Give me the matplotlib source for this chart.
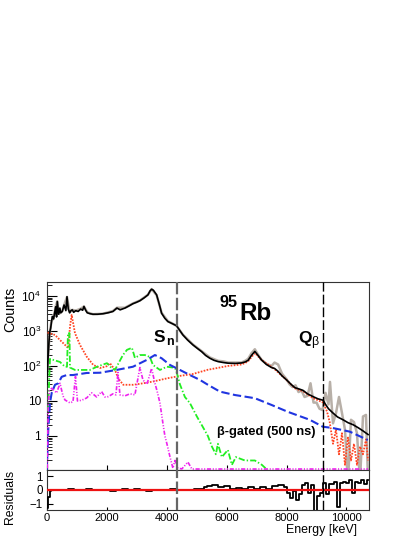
import numpy as np
import matplotlib
matplotlib.use("Agg")
import matplotlib.pyplot as plt
from matplotlib.ticker import FixedLocator, LogLocator, NullFormatter

plt.rcParams["font.family"] = ["Liberation Sans", "DejaVu Sans"]
plt.rcParams["mathtext.fontset"] = "custom"
plt.rcParams["mathtext.rm"] = "Liberation Sans"
plt.rcParams["mathtext.it"] = "Liberation Sans:italic"
plt.rcParams["mathtext.bf"] = "Liberation Sans:bold"
plt.rcParams["lines.scale_dashes"] = False

SN = 4340
QB = 9220
XMAX = 10750

# total fit (black)
fit_e = [0, 50, 77, 100, 133, 160, 187, 230, 300, 330, 353, 400, 440, 467, 520, 580, 640,
         677, 720, 767, 810, 853, 900, 967, 1050, 1133, 1200, 1243, 1300, 1353, 1450, 1543,
         1700, 1877, 2050, 2210, 2343, 2450, 2610, 2750, 2877, 3000, 3110, 3250, 3377, 3450,
         3500, 3560, 3667, 3750, 3833, 3940, 4043, 4200, 4333, 4450, 4543, 4700, 4877, 5020,
         5167, 5300, 5443, 5580, 5720, 5900, 6053, 6300, 6500, 6620, 6720, 6830, 6943, 7050,
         7167, 7330, 7500, 7600, 7720, 7850, 8000, 8150, 8277, 8420, 8553, 8700, 8887, 9050,
         9220, 9300, 9400, 9553, 9700, 9887, 10050, 10220, 10400, 10550, 10720]
fit_y = [30, 200, 500, 900, 1200, 1800, 2600, 2200, 4900, 2500, 6900, 3000, 4500, 3300, 3600,
         5500, 3800, 9500, 4200, 3300, 3800, 4000, 3400, 3800, 3600, 4200, 3900, 5000, 3900,
         3300, 3100, 3000, 3000, 3100, 3300, 3600, 4500, 4000, 4500, 5200, 6000, 6600, 7300,
         8800, 10700, 14000, 15500, 14500, 10700, 6000, 3200, 2300, 1850, 1600, 1400, 1000,
         770, 550, 400, 320, 257, 200, 166, 145, 133, 125, 120, 118, 122, 130, 145, 200, 260,
         200, 148, 110, 90, 85, 70, 52, 40, 30, 24, 22, 20, 16, 13.3, 11.5, 10.5, 8, 6, 4.5,
         3.5, 2.9, 2.4, 2.1, 1.7, 1.4, 1.1]

# measured spectrum (grey)
data_e = [0, 50, 100, 160, 230, 300, 353, 400, 467, 520, 580, 677, 767, 853, 967, 1133, 1243,
          1353, 1543, 1877, 2210, 2343, 2610, 2877, 3110, 3377, 3500, 3667, 3833, 4043, 4333,
          4543, 4877, 5167, 5443, 5720, 5900, 6053, 6300, 6500, 6620, 6720, 6830, 6943, 7050,
          7167, 7330, 7500, 7600, 7720, 7850, 8000, 8100, 8200, 8300, 8400, 8500, 8600, 8700,
          8800, 8900, 9000, 9100, 9200, 9300, 9400, 9450, 9550, 9650, 9750, 9850, 9950, 10050,
          10150, 10250, 10350, 10450, 10550, 10650, 10720]
data_y = [30, 220, 850, 1900, 2300, 5000, 7000, 3100, 3300, 3700, 5400, 9300, 3400, 4000, 3800,
          4300, 5000, 3400, 3000, 3100, 3700, 4600, 4600, 6100, 7400, 10800, 15700, 10500, 3300,
          1900, 1400, 780, 410, 265, 175, 140, 135, 125, 125, 125, 140, 160, 230, 300, 210, 150,
          115, 100, 125, 110, 60, 42, 30, 25, 28, 18, 20, 13, 14, 32, 9, 9, 6, 5.5, 17, 8, 35,
          2.3, 4.5, 13, 4.5, 1.5, 0.05, 2.9, 2.5, 1.2, 0.05, 3.6, 4, 0.05]

# component (red dotted)
red_e = [30, 110, 200, 277, 443, 610, 720, 777, 833, 943, 1110, 1333, 1553, 1777, 2000, 2110,
         2277, 2387, 2553, 2887, 3220, 3553, 4000, 4443, 4877, 5377, 5710, 6043, 6500, 6710,
         6943, 7167, 7610, 8000, 8277, 8550, 8890, 9220, 9350, 9440, 9550, 9650, 9750, 9850,
         9950, 10050, 10150, 10250, 10350, 10450, 10550, 10650, 10720]
red_y = [900, 850, 800, 770, 550, 400, 325, 1330, 2860, 870, 400, 185, 107, 87, 98, 120, 77, 44,
         29, 29, 32, 36, 44, 52, 59, 78, 88, 100, 110, 133, 235, 148, 80, 40, 23, 19, 12, 9, 5,
         2.5, 0.6, 1.5, 0.3, 1.2, 0.15, 0.9, 0.2, 0.6, 0.15, 0.5, 0.3, 0.8, 0.2]

# component (green dash-dot)
green_e = [43, 110, 210, 443, 610, 677, 710, 760, 777, 943, 1443, 1677, 2010, 2177, 2277, 2543,
           2677, 2843, 2943, 3110, 3277, 3443, 3543, 3777, 4010, 4210, 4310, 4443, 4610, 4777,
           5010, 5210, 5377, 5510, 5643, 5710, 5843, 6043, 6177, 6310, 6610, 6943, 7177, 7300]
green_y = [5, 160, 150, 130, 95, 95, 870, 870, 90, 77, 77, 95, 120, 85, 77, 205, 288, 330, 170,
           205, 205, 180, 107, 77, 95, 90, 80, 30, 13, 8.7, 3.6, 1.8, 1.0, 0.5, 0.3, 0.6, 0.25,
           0.4, 0.15, 0.25, 0.2, 0.2, 0.15, 0.12]

# component (blue dashed)
blue_e = [0, 53, 110, 167, 277, 387, 500, 667, 877, 1333, 1777, 2333, 2877, 3333, 3610, 3833,
          4110, 4443, 4777, 5110, 5377, 5777, 6277, 6943, 7500, 8043, 8777, 9210, 9543, 10110,
          10710]
blue_y = [0.1, 1.5, 8.8, 17, 29, 32, 49, 55, 55, 63, 64, 77, 95, 148, 205, 166, 107, 77, 55, 40,
          29, 18.5, 14.8, 12, 7.7, 4.9, 2.9, 1.84, 1.69, 1.33, 0.77]

# component (magenta dash-dot-dot)
mag_e = [20, 53, 93, 167, 333, 443, 543, 610, 777, 877, 960, 1027, 1167, 1333, 1500, 1667, 1833,
         1943, 2053, 2210, 2310, 2377, 2443, 2610, 2777, 2943, 3110, 3210, 3343, 3500, 3610,
         3677, 3777, 3877, 3943, 4010, 4110, 4210, 4277, 4377, 4510, 4710, 4843, 10720]
mag_y = [0.12, 9, 20, 23, 17, 32, 14, 10.7, 8.8, 9.5, 50, 10, 10.5, 12.2, 17, 13, 18.5, 13, 13.3,
         16, 15, 65, 15, 14, 16, 15, 90, 40, 30, 85, 32, 20, 8.8, 2.3, 1, 0.6, 0.26, 0.12, 0.2,
         0.12, 0.115, 0.18, 0.114, 0.114]

# residuals
res_e = [0, 40, 80, 120, 200, 400, 600, 800, 1000, 1200, 1400, 1600, 1800, 2000, 2200, 2400,
         2600, 2800, 3000, 3200, 3400, 3600, 3800, 4000, 4200, 4400, 4600, 4800, 5000, 5200,
         5300, 5400, 5600, 5800, 6000, 6200, 6400, 6600, 6800, 7000, 7200, 7400, 7600, 7800,
         8000, 8050, 8150, 8250, 8350, 8450, 8550, 8650, 8750, 8850, 8950, 9050, 9150, 9250,
         9350, 9450, 9550, 9650, 9750, 9850, 9950, 10050, 10150, 10250, 10350, 10450, 10550,
         10650, 10720]
res_y = [-1.1, -1.3, -0.5, -0.1, 0.0, 0.03, -0.02, 0.04, -0.03, 0.02, 0.05, -0.02, 0.03, 0.0,
         -0.04, 0.02, 0.05, -0.03, 0.04, 0.02, -0.05, 0.03, 0.0, -0.02, 0.04, 0.0, 0.03, -0.03,
         0.05, 0.1, 0.2, 0.3, 0.35, 0.25, 0.3, 0.1, 0.15, 0.1, 0.2, 0.1, 0.25, 0.1, 0.3, 0.35,
         0.2, -0.25, -0.6, -0.1, -0.7, -0.3, 0.35, 0.5, -0.2, 0.35, -1.6, -0.4, -0.2, 0.5, -0.3,
         0.4, 0.45, 0.6, -1.2, 0.5, 0.6, 0.5, 0.7, -0.2, 0.6, 0.5, 0.7, 0.4, 0.7]

fig = plt.figure(figsize=(4.15, 5.37), dpi=100)
ax = fig.add_axes([0.1125, 0.1248, 0.7766, 0.3501])
rax = fig.add_axes([0.1125, 0.0503, 0.7766, 0.0745])

ax.plot(data_e, data_y, color="#b8b0a8", lw=1.8, zorder=2)
ax.plot(red_e, red_y, color="#ff4422", lw=1.3, dashes=(1.2, 1.0), zorder=3)
ax.plot(green_e, green_y, color="#22ee22", lw=1.3, dashes=(4.5, 1.5, 1.0, 1.5), zorder=3)
ax.plot(blue_e, blue_y, color="#2035e0", lw=1.5, dashes=(6, 2.5), zorder=3)
ax.plot(mag_e, mag_y, color="#ee22ee", lw=1.2, dashes=(3, 1.2, 0.8, 1.2, 0.8, 1.2), zorder=3)
ax.plot(fit_e, fit_y, color="black", lw=1.2, zorder=4)

for a in (ax, rax):
    a.axvline(SN, color="#666666", lw=1.6, dashes=(9, 2.5), zorder=5)
    a.axvline(QB, color="black", lw=1.0, dashes=(7, 2.2), zorder=5)
    a.set_xlim(0, XMAX)
    for s in a.spines.values():
        s.set_color("#333333")
        s.set_linewidth(0.8)

ax.set_yscale("log")
ax.set_ylim(0.107, 25000)
ax.yaxis.set_major_locator(FixedLocator([1, 10, 100, 1000, 10000]))
ax.set_yticklabels(["1", "10", "$10^{2}$", "$10^{3}$", "$10^{4}$"])
ax.yaxis.set_minor_locator(LogLocator(base=10, subs=np.arange(2, 10)))
ax.yaxis.set_minor_formatter(NullFormatter())
ax.tick_params(axis="y", which="major", direction="in", length=7, width=0.8, labelsize=8.6, pad=4)
ax.tick_params(axis="y", which="minor", direction="in", length=3.5, width=0.6)
ax.xaxis.set_major_locator(FixedLocator([0, 2000, 4000, 6000, 8000, 10000]))
ax.tick_params(axis="x", direction="in", length=3.5, width=0.8, labelbottom=False)

rax.plot(res_e, res_y, color="black", lw=1.3, drawstyle="steps-mid", zorder=3)
rax.axhline(0, color="#ee1111", lw=1.6, zorder=4)
rax.set_ylim(-1.45, 1.45)
rax.yaxis.set_major_locator(FixedLocator([-1, 0, 1]))
rax.set_yticklabels(["\u22121", "0", "1"])
rax.xaxis.set_major_locator(FixedLocator([0, 2000, 4000, 6000, 8000, 10000]))
rax.tick_params(axis="y", direction="in", length=4, width=0.8, labelsize=8.3, pad=3)
rax.tick_params(axis="x", direction="in", length=2.5, width=0.8, labelsize=8.0, pad=2)

fig.text(10 / 415, 1 - 287 / 537, "Counts", rotation=90, ha="center", va="top", fontsize=10.3)
fig.text(10 / 415, 1 - 470 / 537, "Residuals", rotation=90, ha="center", va="top", fontsize=8.8)
fig.text(357 / 415, 1 - 530 / 537, "Energy [keV]", ha="right", va="center", fontsize=8.9)

tr = ax.transAxes
ax.text(0.535, 0.867, "95", transform=tr, fontsize=11.7, fontweight="bold", ha="left", va="baseline")
ax.text(0.598, 0.798, "Rb", transform=tr, fontsize=17.5, fontweight="bold", ha="left", va="baseline")
ax.text(0.331, 0.682, "S", transform=tr, fontsize=12.5, fontweight="bold", ha="left", va="baseline")
ax.text(0.370, 0.665, "n", transform=tr, fontsize=9, fontweight="bold", ha="left", va="baseline")
ax.text(0.781, 0.674, "Q", transform=tr, fontsize=12.5, fontweight="bold", ha="left", va="baseline")
ax.text(0.822, 0.665, "\u03b2", transform=tr, fontsize=9, ha="left", va="baseline")
ax.text(0.527, 0.202, "\u03b2-gated (500 ns)", transform=tr, fontsize=9.3, fontweight="bold",
        ha="left", va="center")

fig.savefig("out.png", dpi=100)
